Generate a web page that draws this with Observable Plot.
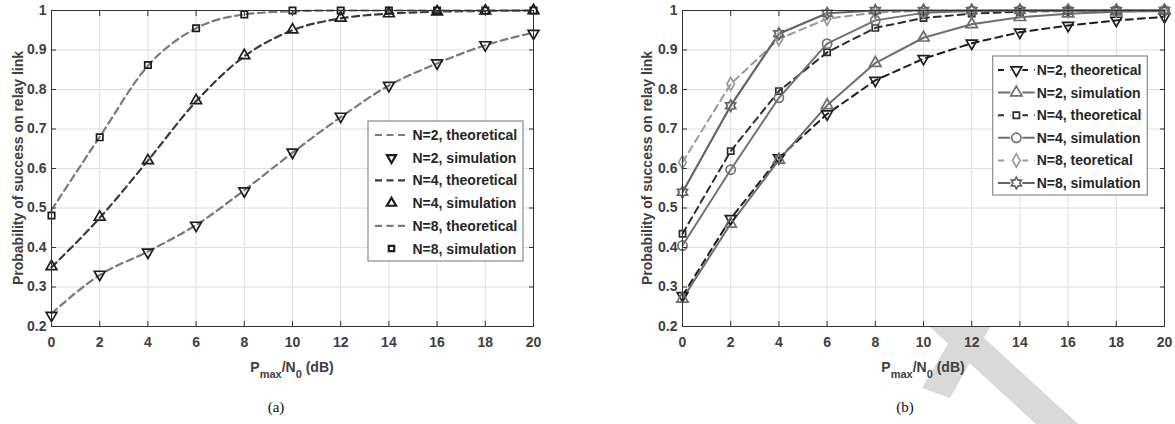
<!DOCTYPE html>
<html><head><meta charset="utf-8">
<script src="https://cdn.jsdelivr.net/npm/d3@7"></script>
<script src="https://cdn.jsdelivr.net/npm/@observablehq/plot@0.6"></script>
<style>
body{margin:0;background:#fff}
#wrap{position:relative;width:1175px;height:424px;overflow:hidden;background:#fff}
#wrap svg{position:absolute;top:0}
#wm{position:absolute;left:0;top:0}
</style></head><body><div id="wrap">
<svg id="wm" width="1175" height="424"><g fill="#d9d9d9">
<polygon points="930,327 972,327 1078,424 1036,424"/>
<polygon points="958,327 990,327 950,398 922,388"/>
</g></svg>
</div>
<script>
// ---- data ----
const snr = [0, 2, 4, 6, 8, 10, 12, 14, 16, 18, 20];
const xTicks = [0, 2, 4, 6, 8, 10, 12, 14, 16, 18, 20];
const yTicks = [0.2, 0.3, 0.4, 0.5, 0.6, 0.7, 0.8, 0.9, 1];
const yTickLabels = ["0.2", "0.3", "0.4", "0.5", "0.6", "0.7", "0.8", "0.9", "1"];

// panel (a)
const aTheoN2 = [0.233, 0.330, 0.390, 0.457, 0.545, 0.640, 0.730, 0.810, 0.866, 0.912, 0.944];
const aSimN2  = [0.228, 0.332, 0.388, 0.456, 0.543, 0.641, 0.732, 0.810, 0.867, 0.913, 0.942];
const aTheoN4 = [0.350, 0.475, 0.620, 0.770, 0.884, 0.950, 0.980, 0.992, 0.997, 0.999, 1.000];
const aSimN4  = [0.352, 0.477, 0.620, 0.772, 0.886, 0.951, 0.981, 0.992, 0.997, 0.999, 1.000];
const aTheoN8 = [0.495, 0.680, 0.860, 0.955, 0.990, 0.998, 1.000, 1.000, 1.000, 1.000, 1.000];
const aSimN8  = [0.481, 0.679, 0.862, 0.955, 0.990, 1.000, 1.000, 1.000, 1.000, 1.000, 1.000];
const aLabels = ["N=2, theoretical", "N=2, simulation", "N=4, theoretical", "N=4, simulation", "N=8, theoretical", "N=8, simulation"];

// panel (b)
const bTheoN2 = [0.278, 0.473, 0.627, 0.738, 0.823, 0.878, 0.917, 0.945, 0.962, 0.975, 0.984];
const bSimN2  = [0.270, 0.460, 0.622, 0.760, 0.867, 0.931, 0.965, 0.983, 0.992, 0.997, 0.999];
const bTheoN4 = [0.435, 0.644, 0.796, 0.894, 0.956, 0.981, 0.992, 0.997, 0.999, 1.000, 1.000];
const bSimN4  = [0.405, 0.597, 0.779, 0.916, 0.975, 0.994, 0.999, 1.000, 1.000, 1.000, 1.000];
const bTheoN8 = [0.616, 0.814, 0.928, 0.979, 0.995, 0.999, 1.000, 1.000, 1.000, 1.000, 1.000];
const bSimN8  = [0.540, 0.759, 0.941, 0.993, 1.000, 1.000, 1.000, 1.000, 1.000, 1.000, 1.000];
const bLabels = ["N=2, theoretical", "N=2, simulation", "N=4, theoretical", "N=4, simulation", "N=8, teoretical", "N=8, simulation"];

const xLabelMain = ["P", "max", "/N", "0", " (dB)"];
const yLabel = "Probability of success on relay link";

// ---- symbols ----
const sqrt3 = Math.sqrt(3);
const triDown = {draw(ctx, size) {
  const y = -Math.sqrt(size / (sqrt3 * 3));
  ctx.moveTo(0, -y * 2); ctx.lineTo(-sqrt3 * y, y); ctx.lineTo(sqrt3 * y, y); ctx.closePath();
}};
const hexagram = {draw(ctx, size) {
  const R = Math.sqrt(size) * 0.78, r0 = R / sqrt3;
  for (let k = 0; k < 12; k++) {
    const a = -Math.PI / 2 + k * Math.PI / 6, rr = k % 2 ? r0 : R;
    const px = rr * Math.cos(a), py = rr * Math.sin(a);
    k ? ctx.lineTo(px, py) : ctx.moveTo(px, py);
  }
  ctx.closePath();
}};
const pts = arr => snr.map((x, i) => ({x, y: arr[i]}));

const FONT = "'Liberation Sans', Arial, Helvetica, sans-serif";
const wrap = d3.select("#wrap");

function panel({width, left, marginLeft, marginRight, series, curve, labels, legendBox, caption, ylabelX, captionX}) {
  const marks = [
    Plot.gridX(xTicks, {stroke: "#dedede", strokeOpacity: 1, strokeWidth: 1}),
    Plot.gridY(yTicks, {stroke: "#dedede", strokeOpacity: 1, strokeWidth: 1}),
  ];
  for (const s of series) {
    if (s.line) marks.push(Plot.line(pts(s.data), {x: "x", y: "y", stroke: s.color, strokeWidth: s.lw, strokeDasharray: s.dash || null, curve}));
  }
  for (const s of series) {
    if (s.symbol) marks.push(Plot.dot(pts(s.data), {x: "x", y: "y", symbol: s.symbol, r: s.r || 4, stroke: s.mcolor || s.color, strokeWidth: 1.7, fill: "none"}));
  }
  marks.push(
    Plot.frame({stroke: "#333", strokeWidth: 1}),
    Plot.axisX(xTicks, {anchor: "bottom", tickSize: 0, tickPadding: 11, label: null}),
    Plot.axisX(xTicks, {anchor: "bottom", tickSize: -5, tickFormat: () => "", label: null, stroke: "#333"}),
    Plot.axisX(xTicks, {anchor: "top", tickSize: -5, tickFormat: () => "", label: null, stroke: "#333"}),
    Plot.axisY(yTicks, {anchor: "left", tickSize: 0, tickPadding: 5, tickFormat: (d, i) => yTickLabels[i], label: null}),
    Plot.axisY(yTicks, {anchor: "left", tickSize: -5, tickFormat: () => "", label: null, stroke: "#333"}),
    Plot.axisY(yTicks, {anchor: "right", tickSize: -5, tickFormat: () => "", label: null, stroke: "#333"})
  );
  const svg = Plot.plot({
    width, height: 424, marginTop: 10, marginBottom: 98, marginLeft, marginRight,
    x: {domain: [0, 20]}, y: {domain: [0.2, 1]},
    style: {fontFamily: FONT, fontSize: "14px", fontWeight: "bold", color: "#404040", background: "transparent", overflow: "visible"},
    marks
  });
  const sel = d3.select(svg).style("left", left + "px");
  const xs = svg.scale("x");
  const cx = (xs.range[0] + xs.range[1]) / 2;
  // x label
  const t = sel.append("text").attr("x", cx).attr("y", 372).attr("text-anchor", "middle")
    .attr("font-family", FONT).attr("font-weight", "bold").attr("font-size", 14).attr("fill", "#404040");
  t.append("tspan").text(xLabelMain[0]);
  t.append("tspan").attr("dy", 6).attr("font-size", 11).text(xLabelMain[1]);
  t.append("tspan").attr("dy", -6).text(xLabelMain[2]);
  t.append("tspan").attr("dy", 6).attr("font-size", 11).text(xLabelMain[3]);
  t.append("tspan").attr("dy", -6).text(xLabelMain[4]);
  // y label
  sel.append("text").attr("transform", `translate(${ylabelX},168) rotate(-90)`).attr("text-anchor", "middle")
    .attr("dominant-baseline", "central").attr("font-family", FONT).attr("font-weight", "bold")
    .attr("font-size", 14).attr("fill", "#404040").text(yLabel);
  // caption
  sel.append("text").attr("x", captionX).attr("y", 412).attr("text-anchor", "middle")
    .attr("font-family", "'Liberation Serif', 'Times New Roman', serif").attr("font-weight", "normal")
    .attr("font-size", 15).attr("fill", "#111").text(caption);
  // legend
  const L = legendBox;
  const g = sel.append("g");
  g.append("rect").attr("x", L.x).attr("y", L.y).attr("width", L.w).attr("height", L.h)
    .attr("fill", "#fff").attr("stroke", "#8a8a8a").attr("stroke-width", 1.2);
  series.forEach((s, i) => {
    const ry = L.y + 14 + i * L.step;
    if (s.line) {
      g.append("line").attr("x1", L.x + L.lx0).attr("x2", L.x + L.lx1).attr("y1", ry).attr("y2", ry)
        .attr("stroke", s.color).attr("stroke-width", s.lw).attr("stroke-dasharray", s.dash ? L.dash : null);
    }
    if (s.symbol) {
      const mx = L.x + (L.lx0 + L.lx1) / 2;
      if (s.line) g.append("rect").attr("x", mx - 6).attr("y", ry - 6).attr("width", 12).attr("height", 12).attr("fill", "#fff");
      const lr = s.line ? (s.r || 4) : (s.r || 4) * 0.85;
      g.append("path").attr("d", d3.symbol(s.symbol, Math.PI * lr ** 2)())
        .attr("transform", `translate(${mx},${ry})`).attr("fill", "none")
        .attr("stroke", s.mcolor || s.color).attr("stroke-width", s.line ? 1.7 : 2.2);
    }
    g.append("text").attr("x", L.x + L.tx).attr("y", ry).attr("dominant-baseline", "central")
      .attr("text-anchor", "start")
      .attr("font-family", FONT).attr("font-weight", "bold").attr("font-size", 14).attr("fill", "#262626")
      .text(labels[i]);
  });
  wrap.node().appendChild(svg);
}

// left panel
panel({
  width: 587, left: 0, marginLeft: 51, marginRight: 54, curve: "monotone-x", labels: aLabels,
  ylabelX: 17.5, captionX: 276, caption: "(a)",
  legendBox: {x: 368, y: 121, w: 155, h: 140, step: 22.7, lx0: 7, lx1: 40, tx: 44.5, dash: "7,4.5"},
  series: [
    {data: aTheoN2, line: true, color: "#7a7a7a", lw: 2.2, dash: "7,4.5"},
    {data: aSimN2, symbol: triDown, color: "#1c1c1c", r: 4},
    {data: aTheoN4, line: true, color: "#3a3a3a", lw: 2.2, dash: "7,4.5"},
    {data: aSimN4, symbol: d3.symbolTriangle, color: "#1c1c1c", r: 4},
    {data: aTheoN8, line: true, color: "#7a7a7a", lw: 2.2, dash: "7,4.5"},
    {data: aSimN8, symbol: d3.symbolSquare, color: "#1c1c1c", r: 3.6}
  ]
});

// right panel
panel({
  width: 588, left: 587, marginLeft: 95, marginRight: 11, curve: "linear", labels: bLabels,
  ylabelX: 59.5, captionX: 318, caption: "(b)",
  legendBox: {x: 405.7, y: 56, w: 154.6, h: 139, step: 22.6, lx0: 5.3, lx1: 42, tx: 44, dash: "6,6"},
  series: [
    {data: bTheoN2, line: true, symbol: triDown, color: "#1e1e1e", lw: 2, dash: "7,5", r: 4},
    {data: bSimN2, line: true, symbol: d3.symbolTriangle, color: "#6e6e6e", lw: 2, r: 4.2},
    {data: bTheoN4, line: true, symbol: d3.symbolSquare, color: "#2e2e2e", lw: 2, dash: "7,5", r: 3.5},
    {data: bSimN4, line: true, symbol: d3.symbolCircle, color: "#727272", lw: 2, r: 4.6},
    {data: bTheoN8, line: true, symbol: d3.symbolDiamond, color: "#9a9a9a", lw: 2, dash: "7,5", r: 4},
    {data: bSimN8, line: true, symbol: hexagram, color: "#646464", lw: 2.2, r: 4.2}
  ]
});
</script></body></html>
